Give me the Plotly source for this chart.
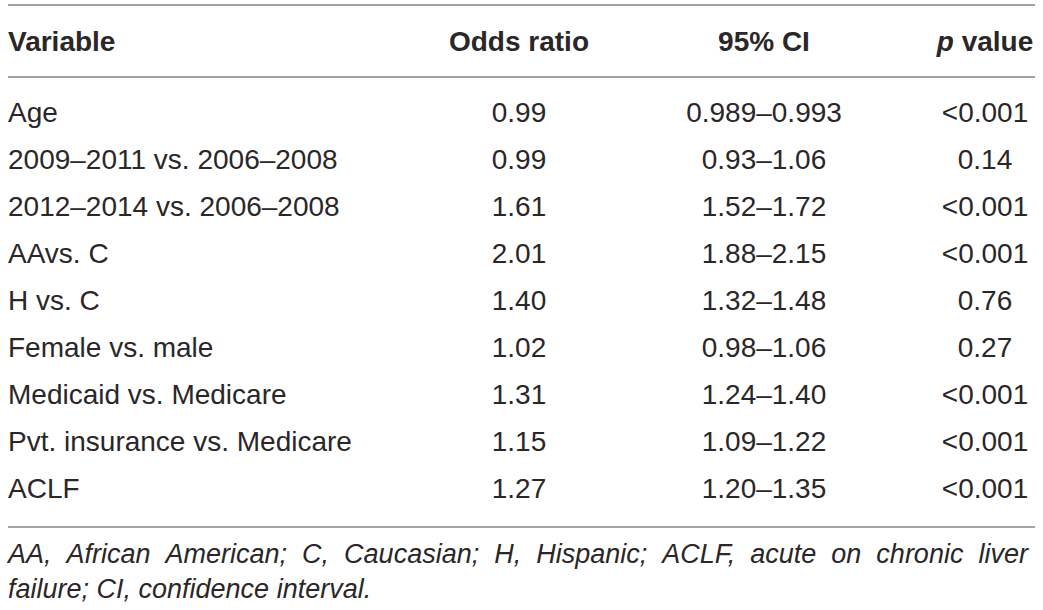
'''Odds ratio table redrawn as a Plotly figure.'''

import plotly.graph_objects as go

# table content
headers = ['Variable', 'Odds ratio', '95% CI', '<i>p</i> value']
variables = ['Age', '2009–2011 vs. 2006–2008', '2012–2014 vs. 2006–2008',
             'AAvs. C', 'H vs. C', 'Female vs. male', 'Medicaid vs. Medicare',
             'Pvt. insurance vs. Medicare', 'ACLF']
odds_ratio = ['0.99', '0.99', '1.61', '2.01', '1.40', '1.02', '1.31', '1.15', '1.27']
ci_95 = ['0.989–0.993', '0.93–1.06', '1.52–1.72', '1.88–2.15', '1.32–1.48',
         '0.98–1.06', '1.24–1.40', '1.09–1.22', '1.20–1.35']
p_value = ['<0.001', '0.14', '<0.001', '<0.001', '0.76', '0.27', '<0.001',
           '<0.001', '<0.001']
footnote = ['AA, African American; C, Caucasian; H, Hispanic; ACLF, acute on chronic liver',
            'failure; CI, confidence interval.']

# layout (pixels)
W, H = 1043, 610
LEFT, RIGHT = 8, 1035
HEADER_Y = 44
ROW0, PITCH = 115, 47
COL_X = [LEFT, 519, 764, 985]
LINE_Y = [5, 77, 527]
FOOT_Y = [556, 591]
TEXT = '#2b2728'
RULE = '#a3a3a3'
FONT = 'Liberation Sans'

row_y = [ROW0 + i * PITCH for i in range(len(variables))]


def justify(line):
    '''Widen word gaps so the first footnote line spans the full width'''
    return '&nbsp;&nbsp;'.join(line.split(' '))


fig = go.Figure()

# header row
fig.add_trace(go.Scatter(
    x=[COL_X[0]], y=[HEADER_Y], text=[headers[0]], mode='text',
    textposition='middle right',
    textfont=dict(family=FONT, size=28, color=TEXT, weight='bold'),
    hoverinfo='skip'))
fig.add_trace(go.Scatter(
    x=COL_X[1:], y=[HEADER_Y] * 3, text=headers[1:], mode='text',
    textposition='middle center',
    textfont=dict(family=FONT, size=28, color=TEXT, weight='bold'),
    hoverinfo='skip'))

# body
fig.add_trace(go.Scatter(
    x=[COL_X[0]] * len(variables), y=row_y, text=variables, mode='text',
    textposition='middle right',
    textfont=dict(family=FONT, size=28, color=TEXT),
    hoverinfo='skip'))
for col, values in zip(COL_X[1:], [odds_ratio, ci_95, p_value]):
    fig.add_trace(go.Scatter(
        x=[col] * len(values), y=row_y, text=values, mode='text',
        textposition='middle center',
        textfont=dict(family=FONT, size=28, color=TEXT),
        hoverinfo='skip'))

# footnote
foot_text = ['<i>' + justify(footnote[0]) + '</i>', '<i>' + footnote[1] + '</i>']
fig.add_trace(go.Scatter(
    x=[COL_X[0]] * len(footnote), y=FOOT_Y, text=foot_text,
    mode='text', textposition='middle right',
    textfont=dict(family=FONT, size=27, color=TEXT),
    hoverinfo='skip'))

# horizontal rules
for y in LINE_Y:
    fig.add_shape(type='line', x0=LEFT, x1=RIGHT, y0=y, y1=y,
                  line=dict(color=RULE, width=2), layer='below')

fig.update_layout(
    width=W, height=H, showlegend=False,
    margin=dict(t=0, l=0, r=0, b=0),
    paper_bgcolor='white', plot_bgcolor='white',
    xaxis=dict(range=[0, W], visible=False, fixedrange=True),
    yaxis=dict(range=[H, 0], visible=False, fixedrange=True))

# drop the default page margin so the figure sits at the window's corner
fig.write_html('out.html', config={'displayModeBar': False},
               post_script="document.body.style.margin = '0';")
